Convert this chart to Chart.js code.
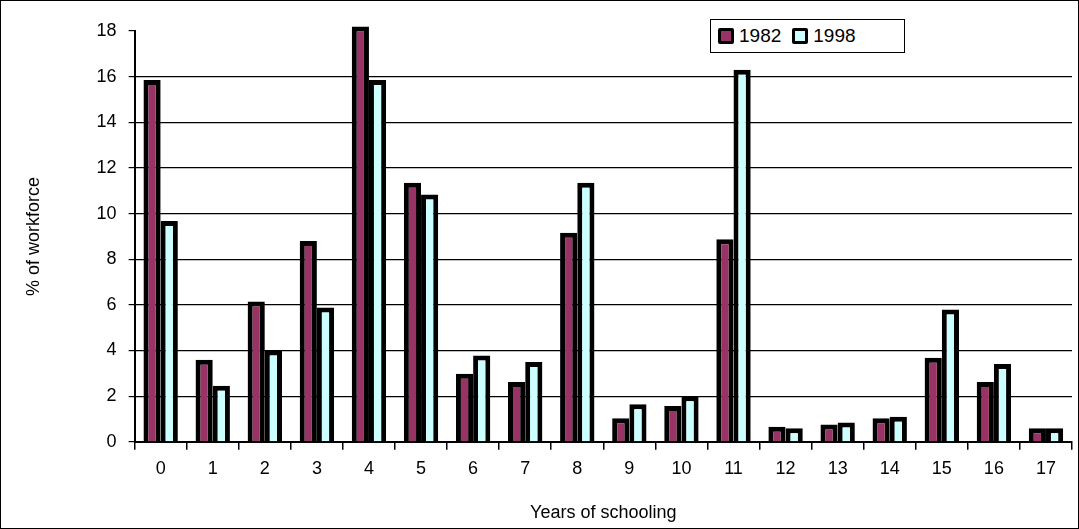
<!DOCTYPE html>
<html><head><meta charset="utf-8">
<script src="https://cdn.jsdelivr.net/npm/chart.js@4"></script>
<style>
body{margin:0;background:#fff;font-family:"Liberation Sans",Arial,sans-serif}
#wrap{position:relative;width:1077px;height:527px;border:1px solid #000}
#legend{position:absolute;left:709px;top:18px;width:193px;height:32px;border:1.5px solid #000;background:#fff;display:flex;align-items:center;font-size:19px}
.it{display:flex;align-items:center;margin-left:7px;margin-right:4px}
.sw{width:10px;height:10px;border:3px solid #000;margin-right:5px;border-radius:2px}
</style></head><body>
<div id="wrap"><canvas id="c" width="1077" height="527"></canvas>
<div id="legend"><div class="it"><div class="sw" style="background:#993366"></div>1982</div><div class="it"><div class="sw" style="background:#ccffff"></div>1998</div></div></div>
<script>
const categories=["0","1","2","3","4","5","6","7","8","9","10","11","12","13","14","15","16","17"];
const s1982=[15.85,3.6,6.15,8.8,18.2,11.35,2.98,2.62,9.16,1.03,1.57,8.87,0.66,0.76,1.03,3.68,2.62,0.59];
const s1998=[9.68,2.46,4.0,5.88,15.85,10.84,3.78,3.5,11.35,1.65,2.0,16.3,0.59,0.85,1.1,5.8,3.41,0.59];
const F={family:"'Liberation Sans', Arial, sans-serif",size:18};
new Chart(document.getElementById('c'),{type:'bar',
data:{labels:categories,datasets:[
{label:'1982',data:s1982,backgroundColor:'#993366',borderColor:'#000',borderWidth:5,clip:false},
{label:'1998',data:s1998,backgroundColor:'#ccffff',borderColor:'#000',borderWidth:5,clip:false}]},
options:{responsive:false,animation:false,
layout:{padding:{top:30,right:6,left:18,bottom:4}},
categoryPercentage:0.66,barPercentage:1,
plugins:{legend:{display:false},tooltip:{enabled:false}},
scales:{
x:{grid:{offset:true,drawOnChartArea:false,color:'#000',lineWidth:1.5,tickLength:8},border:{color:'#000',width:2},
 ticks:{color:'#000',font:F,padding:8},title:{display:true,text:'Years of schooling',color:'#000',font:F,padding:{top:15,bottom:0}}},
y:{min:0,max:18,ticks:{stepSize:2,color:'#000',font:F,padding:12},border:{color:'#000',width:2},
 grid:{color:c=>(c.tick&&(c.tick.value===0||c.tick.value===18))?'rgba(0,0,0,0)':'#000',lineWidth:1.2,tickLength:6,tickColor:'#000'},
 title:{display:true,text:'% of workforce',color:'#000',font:F,padding:{bottom:40}}}}}});
</script></body></html>
